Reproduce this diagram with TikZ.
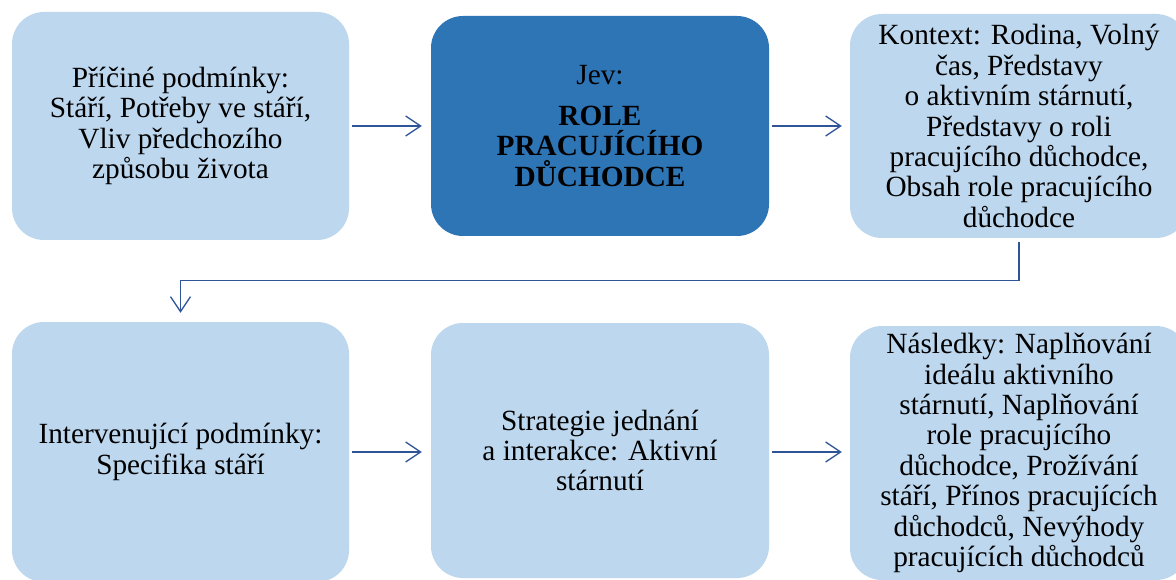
\documentclass[tikz,border=0pt]{standalone}
\usepackage{fontspec}
\setmainfont{Liberation Serif}
\newfontfamily\tnr{Liberation Serif}
\usetikzlibrary{arrows.meta}
\definecolor{lightbox}{HTML}{BDD7EE}
\definecolor{darkbox}{HTML}{2E75B6}
\definecolor{arrowc}{HTML}{2F5597}
\tikzset{
  box/.style={rectangle, rounded corners=32pt, inner sep=0pt, align=center,
    font=\tnr\fontsize{29.3}{30.4}\selectfont, text=black},
  lbox/.style={box, fill=lightbox},
  dbox/.style={box, fill=darkbox},
  conn/.style={draw=arrowc, line width=1.3pt, -{Straight Barb[length=15pt,width=20pt,line width=1.3pt]}},
}
\begin{document}
\begin{tikzpicture}[x=1pt,y=-1pt]
\useasboundingbox (0,0) rectangle (1176,580);
\clip (0,0) rectangle (1176,580);
\fill[white] (0,0) rectangle (1176,580);
\node[lbox, minimum width=337pt, minimum height=228pt] (b1) at (180.5,126)
  {Příčiné podmínky:\\Stáří, Potřeby ve stáří,\\Vliv předchozího\\způsobu života};
\node[dbox, minimum width=338pt, minimum height=220pt] (b2) at (600,126)
  {Jev:\\[10pt]\textbf{ROLE}\\\textbf{PRACUJÍCÍHO}\\\textbf{DŮCHODCE}};
\node[lbox, minimum width=338pt, minimum height=224pt] (b3) at (1019,126)
  {Kontext: Rodina, Volný\\čas, Představy\\o aktivním stárnutí,\\Představy o roli\\pracujícího důchodce,\\Obsah role pracujícího\\důchodce};
\node[lbox, minimum width=337pt, minimum height=260pt] (b4) at (180.5,452)
  {Intervenující podmínky:\\Specifika stáří};
\node[lbox, minimum width=338pt, minimum height=255pt] (b5) at (600,450.5)
  {Strategie jednání\\a interakce: Aktivní\\stárnutí};
\node[lbox, minimum width=338pt, minimum height=254pt] (b6) at (1019,453)
  {Následky: Naplňování\\ideálu aktivního\\stárnutí, Naplňování\\role pracujícího\\důchodce, Prožívání\\stáří, Přínos pracujících\\důchodců, Nevýhody\\pracujících důchodců};
\draw[conn, shorten <=3pt, shorten >=9pt] (b1.east) -- (b2.west);
\draw[conn, shorten <=3pt, shorten >=8pt] (b2.east) -- (b3.west);
\draw[conn, shorten <=4pt, shorten >=9pt] (b3.south) -- ++(0,42) -| (b4.north);
\draw[conn, shorten <=3pt, shorten >=9pt] (b4.east) -- (b5.west |- b4.east);
\draw[conn, shorten <=3pt, shorten >=8pt] (b5.east |- b4.east) -- (b6.west |- b4.east);
\end{tikzpicture}
\end{document}
